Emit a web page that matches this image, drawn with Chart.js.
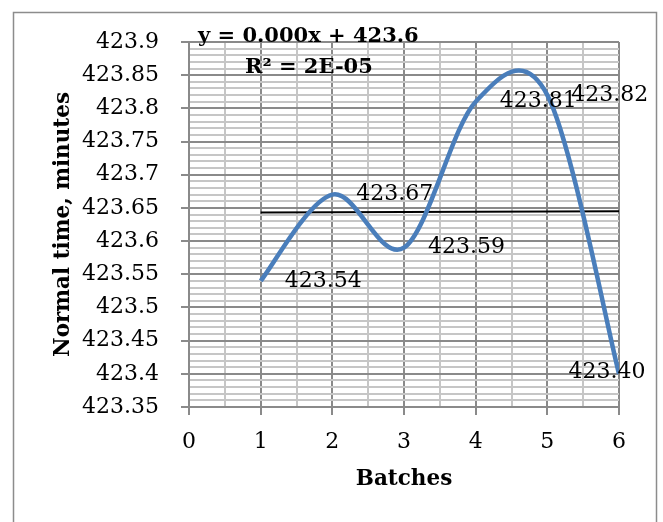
<!DOCTYPE html>
<html>
<head>
<meta charset="utf-8">
<script src="https://cdn.jsdelivr.net/npm/chart.js@4.4.1/dist/chart.umd.min.js"></script>
<style>
  html, body { margin: 0; padding: 0; background: #fff; }
  canvas { display: block; }
</style>
</head>
<body>
<canvas id="chart" width="663" height="522"></canvas>
<script>
// batches and the measured normal time for each
var batches = [1, 2, 3, 4, 5, 6];
var normalTime = [423.54, 423.67, 423.59, 423.81, 423.82, 423.40];

// linear trend line as drawn (ends at batch 1 and 6)
var trendX = [1, 6];
var trendY = [423.643, 423.645];
var trendLabel = ["y = 0.000x + 423.6", "R\u00b2 = 2E-05"];

// axis ranges
var xMin = 0, xMax = 6;
var yMin = 423.35, yMax = 423.9;

var serif = "'DejaVu Serif', 'Liberation Serif', serif";
var majorGrid = "#8a8a8a";
var minorGrid = "#c6c6c6";

function isMajorY(v) { return Math.round(v * 100) % 5 === 0; }
function isMajorX(v) { return Math.abs(v - Math.round(v)) < 1e-6; }

var mainPoints = batches.map(function(b, i) { return { x: b, y: normalTime[i] }; });
var trendPoints = trendX.map(function(x, i) { return { x: x, y: trendY[i] }; });

// spreadsheet style smoothing: plain catmull-rom control points
var smoothPlugin = {
    id: "smooth",
    beforeDatasetDraw: function(chart, args) {
        if (args.index !== 0) return;
        var line = args.meta.dataset;
        var pts = args.meta.data;
        line.updateControlPoints(chart.chartArea);
        for (var i = 0; i < pts.length; i++) {
            var prev = pts[Math.max(i - 1, 0)];
            var next = pts[Math.min(i + 1, pts.length - 1)];
            var dx = (next.x - prev.x) / 6;
            var dy = (next.y - prev.y) / 6;
            pts[i].cp1x = pts[i].x - dx;
            pts[i].cp1y = pts[i].y - dy;
            pts[i].cp2x = pts[i].x + dx;
            pts[i].cp2y = pts[i].y + dy;
        }
    }
};

var decorPlugin = {
    id: "decor",
    beforeDraw: function(chart) {
        var ctx = chart.ctx;
        ctx.save();
        ctx.strokeStyle = "#8c8c8c";
        ctx.lineWidth = 1.5;
        ctx.strokeRect(13.5, 12.5, 643, 530);
        ctx.restore();
    },
    afterDraw: function(chart) {
        var ctx = chart.ctx;
        var meta = chart.getDatasetMeta(0);
        ctx.save();
        ctx.fillStyle = "#000";
        ctx.font = "22px " + serif;
        ctx.textBaseline = "middle";
        meta.data.forEach(function(pt, i) {
            var txt = normalTime[i].toFixed(2);
            if (i === meta.data.length - 1) {
                ctx.textAlign = "center";
                ctx.fillText(txt, pt.x - 12, pt.y - 2);
            } else {
                ctx.textAlign = "left";
                ctx.fillText(txt, pt.x + 24, pt.y);
            }
        });
        // trend line equation
        ctx.font = "bold 21px " + serif;
        ctx.textAlign = "left";
        ctx.fillText(trendLabel[0], 198, 37);
        ctx.fillText(trendLabel[1], 245, 68);
        ctx.restore();
    }
};

new Chart(document.getElementById("chart"), {
    type: "line",
    data: {
        datasets: [{
            data: mainPoints,
            borderColor: "#4a7ebb",
            borderWidth: 4.5,
            pointRadius: 0,
            tension: 0.3,
            fill: false
        }, {
            data: trendPoints,
            borderColor: "#000",
            borderWidth: 2,
            pointRadius: 0,
            tension: 0,
            fill: false
        }]
    },
    options: {
        responsive: false,
        animation: false,
        layout: { padding: { top: 42, right: 44, left: 0, bottom: 0 } },
        plugins: {
            legend: { display: false },
            tooltip: { enabled: false }
        },
        scales: {
            x: {
                type: "linear",
                min: xMin,
                max: xMax,
                afterFit: function(scale) { scale.height = 115; },
                border: { color: majorGrid, width: 2 },
                grid: {
                    lineWidth: 2,
                    tickLength: 8,
                    color: function(c) { return isMajorX(c.tick.value) ? majorGrid : minorGrid; },
                    tickColor: function(c) { return isMajorX(c.tick.value) ? majorGrid : "rgba(0,0,0,0)"; }
                },
                ticks: {
                    stepSize: 0.5,
                    autoSkip: false,
                    maxRotation: 0,
                    padding: 14,
                    color: "#000",
                    font: { family: serif, size: 22 },
                    callback: function(v) { return isMajorX(v) ? String(Math.round(v)) : ""; }
                },
                title: {
                    display: true,
                    text: "Batches",
                    color: "#000",
                    font: { family: serif, size: 21.5, weight: "bold" },
                    padding: { top: 30, bottom: 30 }
                }
            },
            y: {
                min: yMin,
                max: yMax,
                afterFit: function(scale) { scale.width = 189; },
                border: { color: majorGrid, width: 2 },
                grid: {
                    lineWidth: 2,
                    tickLength: 8,
                    color: function(c) { return isMajorY(c.tick.value) ? majorGrid : minorGrid; },
                    tickColor: function(c) { return isMajorY(c.tick.value) ? majorGrid : "rgba(0,0,0,0)"; }
                },
                ticks: {
                    stepSize: 0.01,
                    autoSkip: false,
                    padding: 22,
                    color: "#000",
                    font: { family: serif, size: 22 },
                    callback: function(v) { return isMajorY(v) ? String(Math.round(v * 100) / 100) : ""; }
                },
                title: {
                    display: true,
                    text: "Normal time, minutes",
                    color: "#000",
                    font: { family: serif, size: 21.5, weight: "bold" },
                    padding: { top: 51, bottom: 51 }
                }
            }
        }
    },
    plugins: [smoothPlugin, decorPlugin]
});
</script>
</body>
</html>
